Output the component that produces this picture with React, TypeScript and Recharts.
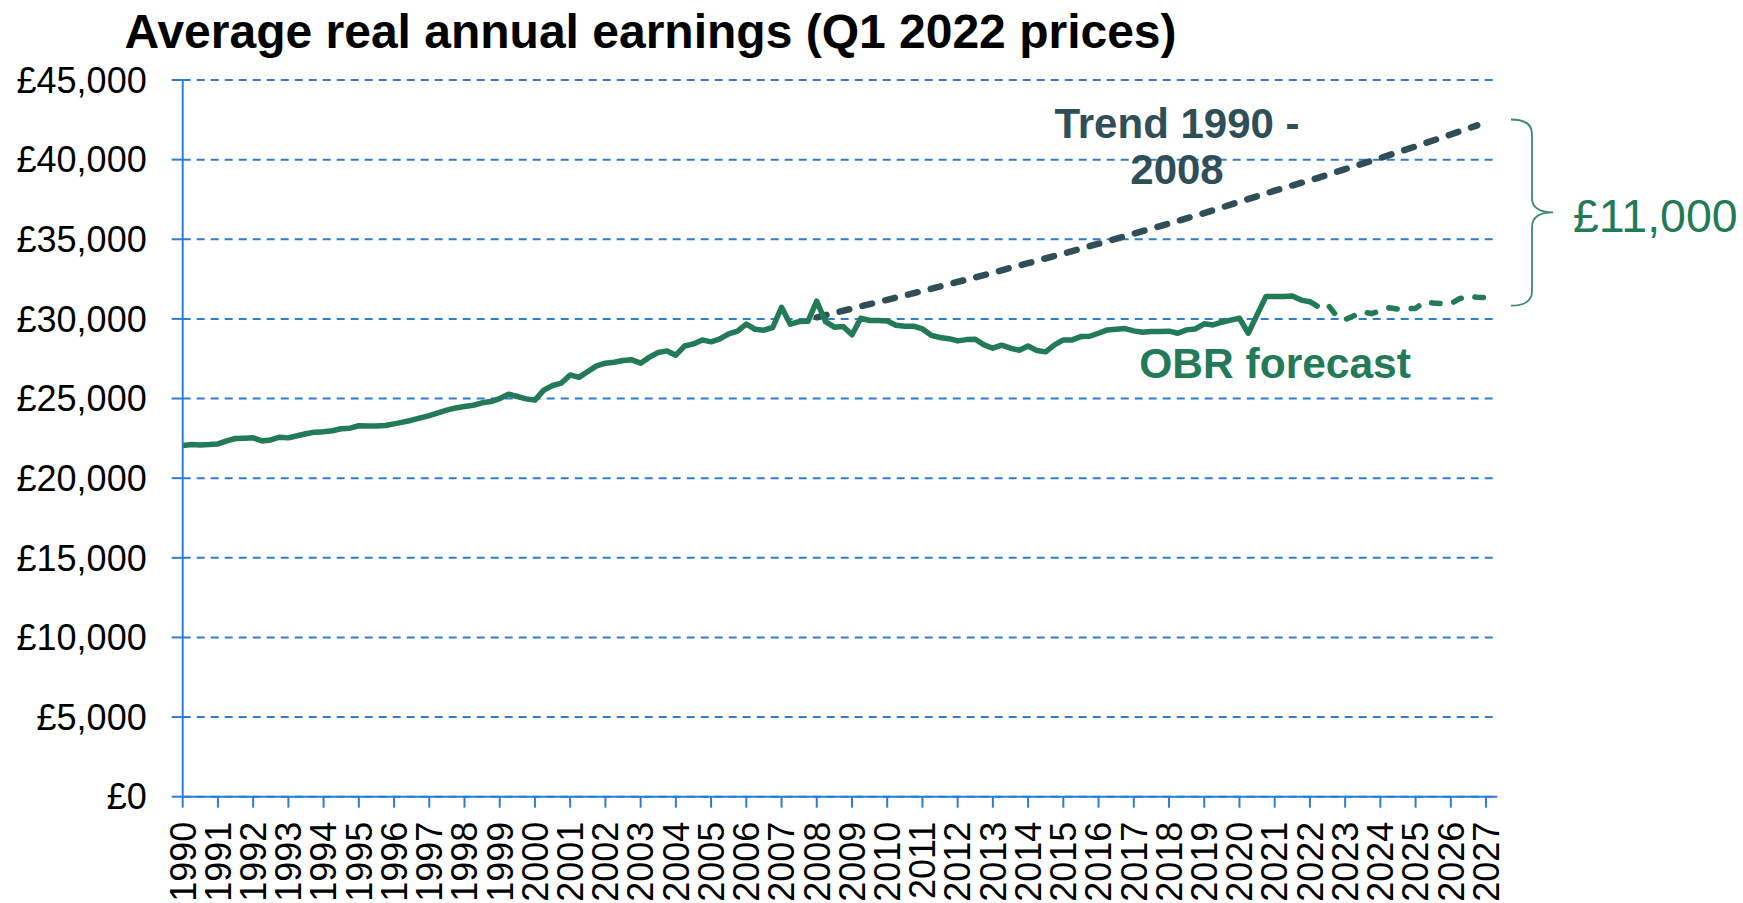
import { LineChart, Line, XAxis, YAxis, CartesianGrid } from 'recharts'

const GREEN = '#237A57'
const SLATE = '#2F4E57'
const BLUE  = '#2E7DD4'
const FONT  = '"Liberation Sans", Arial, sans-serif'

const W = 1743
const H = 903

// x axis: one label per year, data is quarterly
const years = [
  1990, 1991, 1992, 1993, 1994, 1995, 1996, 1997, 1998, 1999,
  2000, 2001, 2002, 2003, 2004, 2005, 2006, 2007, 2008, 2009,
  2010, 2011, 2012, 2013, 2014, 2015, 2016, 2017, 2018, 2019,
  2020, 2021, 2022, 2023, 2024, 2025, 2026, 2027,
]
const yTicks = [0, 5000, 10000, 15000, 20000, 25000, 30000, 35000, 40000, 45000]

// average real annual earnings, quarterly from 1990 Q1 to 2022 Q1
const FIRST_QUARTER = 1990
const earnings = [
  22050, 22110, 22090, 22110, 22150, 22340, 22490, 22510,
  22530, 22340, 22400, 22570, 22530, 22660, 22790, 22890,
  22910, 22980, 23100, 23140, 23290, 23270, 23270, 23310,
  23410, 23520, 23640, 23790, 23930, 24100, 24270, 24410,
  24500, 24580, 24730, 24810, 25000, 25270, 25130, 24980,
  24900, 25530, 25820, 25970, 26480, 26330, 26700, 27050,
  27220, 27280, 27390, 27430, 27220, 27600, 27890, 27990,
  27720, 28300, 28430, 28680, 28560, 28740, 29060, 29230,
  29670, 29350, 29290, 29460, 30730, 29670, 29830, 29850,
  31110, 29830, 29480, 29520, 29000, 30040, 29900, 29900,
  29870, 29600, 29540, 29540, 29370, 28970, 28830, 28760,
  28620, 28700, 28720, 28370, 28160, 28350, 28160, 28030,
  28300, 28010, 27930, 28370, 28680, 28680, 28890, 28910,
  29100, 29310, 29350, 29390, 29250, 29160, 29210, 29210,
  29230, 29100, 29310, 29370, 29690, 29620, 29790, 29920,
  30040, 29100, 30250, 31400, 31400, 31400, 31440, 31180,
  31080,
]

// OBR forecast, quarterly from 2022 Q1 to 2027 Q1
const FORECAST_START = 2022
const obrForecast = [
  31080, 30750, 30920, 30200, 29960, 30200, 30450, 30330,
  30500, 30700, 30620, 30640, 30660, 31060, 31000, 30960,
  30960, 31270, 31420, 31360, 31340,
]

// trend 1990 - 2008 projected forward
const trendYears = [
  2008, 2009, 2010, 2011, 2012, 2013, 2014, 2015, 2016, 2017,
  2018, 2019, 2020, 2021, 2022, 2023, 2024, 2025, 2026, 2026.75,
]
const trendValues = [
  30100, 30650, 31200, 31750, 32320, 32900, 33500, 34100, 34720, 35350,
  35990, 36640, 37350, 38050, 38700, 39400, 40100, 40830, 41580, 42150,
]

const actualData   = earnings.map((v, i) => ({ t: FIRST_QUARTER + i / 4, v }))
const forecastData = obrForecast.map((v, i) => ({ t: FORECAST_START + i / 4, v }))
const trendData    = trendYears.map((t, i) => ({ t, v: trendValues[i] }))

const money = (v: number) => `£${v.toLocaleString('en-GB')}`

function YearTick({ x, y, payload }: { x?: number; y?: number; payload?: { value: number } }) {
  if (x == null || y == null || !payload) return null
  return (
    <text transform={`translate(${x + 12.8},${y + 12}) rotate(-90)`} textAnchor="end"
      fontFamily={FONT} fontSize={36} fill="#000">
      {payload.value}
    </text>
  )
}

export default function App() {
  return (
    <div style={{ position: 'absolute', left: 0, top: 0, width: W, height: H, background: '#fff', fontFamily: FONT }}>
      <LineChart width={W} height={H} margin={{ top: 80, right: 245.7, left: 82.7, bottom: 0.3 }}>
        <CartesianGrid vertical={false} stroke={BLUE} strokeWidth={2} strokeDasharray="8 6" />
        <XAxis dataKey="t" type="number" domain={[1990, 2027.32]} ticks={years} allowDataOverflow
          interval={0} height={106} tickSize={11} tickLine={{ stroke: BLUE, strokeWidth: 2 }}
          axisLine={{ stroke: BLUE, strokeWidth: 2 }} tick={<YearTick />} />
        <YAxis type="number" domain={[0, 45000]} ticks={yTicks} width={100} tickSize={11} tickMargin={25}
          tickFormatter={money} tickLine={{ stroke: BLUE, strokeWidth: 2 }} axisLine={{ stroke: BLUE, strokeWidth: 2 }}
          tick={{ fontSize: 36, fill: '#000', fontFamily: FONT }} />
        <Line data={trendData} dataKey="v" type="linear" stroke={SLATE} strokeWidth={6.5}
          strokeDasharray="10 13.5" strokeLinecap="round" dot={false} isAnimationActive={false} />
        <Line data={forecastData} dataKey="v" type="linear" stroke={GREEN} strokeWidth={5.5}
          strokeDasharray="8.5 14" strokeLinecap="round" strokeLinejoin="round" dot={false} isAnimationActive={false} />
        <Line data={actualData} dataKey="v" type="linear" stroke={GREEN} strokeWidth={5.5}
          strokeLinejoin="round" dot={false} isAnimationActive={false} />
      </LineChart>

      <svg width={W} height={H} style={{ position: 'absolute', left: 0, top: 0, pointerEvents: 'none' }}>
        <text x={124.5} y={48} fontFamily={FONT} fontSize={48} fontWeight="bold" fill="#000">
          Average real annual earnings (Q1 2022 prices)
        </text>
        <text x={1177} y={138.3} textAnchor="middle" fontFamily={FONT} fontSize={42} fontWeight="bold" fill={SLATE}>
          Trend 1990 -
        </text>
        <text x={1177} y={184} textAnchor="middle" fontFamily={FONT} fontSize={42} fontWeight="bold" fill={SLATE}>
          2008
        </text>
        <text x={1139.3} y={377.7} fontFamily={FONT} fontSize={42.5} fontWeight="bold" fill={GREEN}>
          OBR forecast
        </text>
        <path d="M 1511 119.5 Q 1532 119.5 1532 134 L 1532 198 Q 1532 212.3 1553 212.3 Q 1532 212.3 1532 227 L 1532 291 Q 1532 305.7 1511 305.7"
          fill="none" stroke="#3C8C6B" strokeWidth={1.8} />
        <text x={1573} y={231.7} fontFamily={FONT} fontSize={46.5} fill={GREEN}>
          £11,000
        </text>
      </svg>
    </div>
  )
}
